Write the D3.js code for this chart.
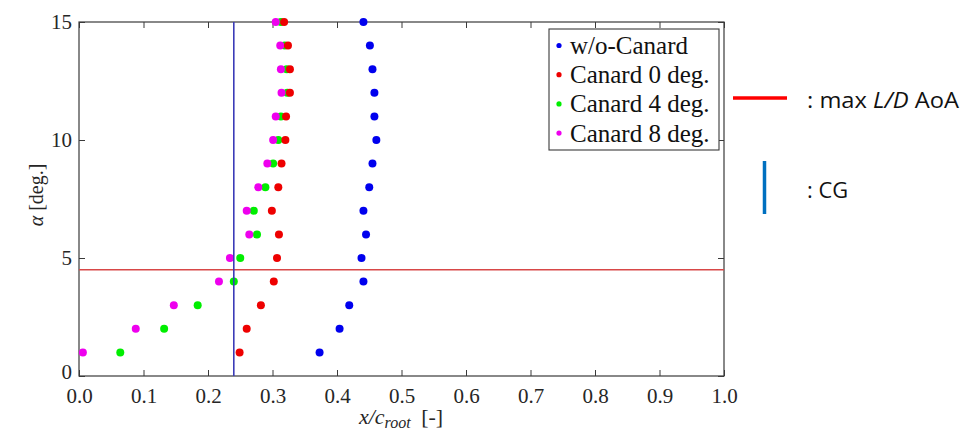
<!DOCTYPE html>
<html>
<head>
<meta charset="utf-8">
<script src="https://cdn.jsdelivr.net/npm/d3@7"></script>
<style>
  html, body { margin: 0; padding: 0; background: #fff; }
  svg { display: block; }
  .serif, .serif text { font-family: "Liberation Serif", "Times New Roman", serif; }
</style>
</head>
<body>
<svg id="chart" width="973" height="433"></svg>
<script>
// ---- data ----
const alpha = [1, 2, 3, 4, 5, 6, 7, 8, 9, 10, 11, 12, 13, 14, 15];
const woCanard = [0.373, 0.404, 0.419, 0.441, 0.438, 0.445, 0.441, 0.450, 0.455, 0.461, 0.458, 0.458, 0.455, 0.451, 0.441];
const canard0  = [0.249, 0.260, 0.282, 0.302, 0.307, 0.310, 0.299, 0.309, 0.314, 0.320, 0.321, 0.327, 0.327, 0.324, 0.318];
const canard4  = [0.064, 0.132, 0.184, 0.240, 0.250, 0.276, 0.271, 0.289, 0.301, 0.309, 0.313, 0.323, 0.322, 0.319, 0.313];
const canard8  = [0.006, 0.088, 0.147, 0.217, 0.234, 0.264, 0.260, 0.278, 0.292, 0.301, 0.305, 0.314, 0.313, 0.312, 0.305];
const seriesNames = ["w/o-Canard", "Canard 0 deg.", "Canard 4 deg.", "Canard 8 deg."];
const seriesColors = ["#0000ee", "#ee0000", "#00ee00", "#ee00ee"];
const xTicks = [0.0, 0.1, 0.2, 0.3, 0.4, 0.5, 0.6, 0.7, 0.8, 0.9, 1.0];
const yTicks = [0, 5, 10, 15];
const cgX = 0.24;
const maxLDAlpha = 4.5;

// ---- layout ----
const svg = d3.select("#chart");
const pL = 79, pR = 724, pT = 22, pB = 376;
const x = d3.scaleLinear().domain([0, 1]).range([pL, pR]);
const y = d3.scaleLinear().domain([0, 15]).range([pB, pT]);
const serif = "Liberation Serif, Times New Roman, serif";
const axisColor = "#3a3a3a";
const textColor = "#262626";

// frame
svg.append("rect")
  .attr("x", pL).attr("y", pT)
  .attr("width", pR - pL).attr("height", pB - pT)
  .attr("fill", "none").attr("stroke", axisColor).attr("stroke-width", 1.2);

// axes (ticks inward)
function styleAxis(g) {
  g.attr("font-family", serif).attr("font-size", 21).classed("serif", true);
  g.select(".domain").remove();
  g.selectAll(".tick line").attr("stroke", axisColor).attr("stroke-width", 1);
  g.selectAll(".tick text").attr("fill", textColor);
}
svg.append("g").attr("transform", `translate(0,${pB})`)
  .call(d3.axisBottom(x).tickValues(xTicks).tickFormat(d3.format(".1f")).tickSizeInner(-6).tickSizeOuter(0).tickPadding(12))
  .call(styleAxis);
svg.append("g").attr("transform", `translate(0,${pT})`)
  .call(d3.axisTop(x).tickValues(xTicks).tickFormat("").tickSizeInner(-6).tickSizeOuter(0))
  .call(styleAxis);
const yAxisG = svg.append("g").attr("transform", `translate(${pL},0)`)
  .call(d3.axisLeft(y).tickValues(yTicks).tickFormat(d3.format("d")).tickSizeInner(-6).tickSizeOuter(0).tickPadding(7))
  .call(styleAxis);
// the "0" label sits just above the "0.0" label, as in the reference
yAxisG.selectAll(".tick text").filter(d => d === 0).attr("dy", "0.1em");
svg.append("g").attr("transform", `translate(${pR},0)`)
  .call(d3.axisRight(y).tickValues(yTicks).tickFormat("").tickSizeInner(-6).tickSizeOuter(0))
  .call(styleAxis);

// points
const allSeries = [woCanard, canard0, canard4, canard8];
const drawOrder = [0, 2, 3, 1];
drawOrder.forEach(si => {
  svg.append("g").selectAll("circle")
    .data(alpha.map((a, i) => ({ a, v: allSeries[si][i] })))
    .join("circle")
    .attr("cx", d => x(d.v)).attr("cy", d => y(d.a))
    .attr("r", 4).attr("fill", seriesColors[si]);
});

// reference lines
svg.append("line")
  .attr("x1", x(0)).attr("x2", x(1)).attr("y1", y(maxLDAlpha)).attr("y2", y(maxLDAlpha))
  .attr("stroke", "#d84848").attr("stroke-width", 1.6);
svg.append("line")
  .attr("x1", x(cgX)).attr("x2", x(cgX)).attr("y1", y(0)).attr("y2", y(15))
  .attr("stroke", "#3c3cb8").attr("stroke-width", 1.6);

// legend
const lg = svg.append("g").attr("class", "serif").attr("font-family", serif);
lg.append("rect").attr("x", 549).attr("y", 29).attr("width", 170).attr("height", 121)
  .attr("fill", "#fff").attr("stroke", axisColor).attr("stroke-width", 1.1);
seriesNames.forEach((name, i) => {
  const cy = 45.5 + i * 29.2;
  lg.append("circle").attr("cx", 559).attr("cy", cy).attr("r", 2.6).attr("fill", seriesColors[i]);
  lg.append("text").attr("x", 570).attr("y", cy + 8.5)
    .attr("fill", "#111").attr("font-size", 25)
    .text(name);
});

// axis titles
const xt = svg.append("text").attr("class", "serif").attr("x", 401).attr("y", 424).attr("text-anchor", "middle")
  .attr("fill", textColor).attr("font-family", serif).attr("font-size", 22);
xt.append("tspan").attr("font-style", "italic").text("x/c");
xt.append("tspan").attr("font-style", "italic").attr("font-size", 16).attr("dy", 4).text("root");
xt.append("tspan").attr("dy", -4).attr("dx", 5).text(" [-]");

const yt = svg.append("text").attr("class", "serif").attr("transform", "translate(43,195) rotate(-90)")
  .attr("text-anchor", "middle").attr("fill", textColor)
  .attr("font-family", serif).attr("font-size", 20);
yt.append("tspan").attr("font-style", "italic").text("α");
yt.append("tspan").text(" [deg.]");

// side annotations
const sans = "Open Sans, Noto Sans, sans-serif";
svg.append("line").attr("x1", 733).attr("x2", 787).attr("y1", 98).attr("y2", 98)
  .attr("stroke", "#ff0000").attr("stroke-width", 3.5);
const t1 = svg.append("text").attr("x", 807).attr("y", 107.5)
  .attr("fill", "#111").attr("font-family", sans).attr("font-size", 21)
  .attr("textLength", 152).attr("lengthAdjust", "spacingAndGlyphs");
t1.append("tspan").text(": max ");
t1.append("tspan").attr("font-style", "italic").text("L/D");
t1.append("tspan").text(" AoA");
svg.append("line").attr("x1", 764.5).attr("x2", 764.5).attr("y1", 161).attr("y2", 214)
  .attr("stroke", "#0070c0").attr("stroke-width", 3.5);
svg.append("text").attr("x", 807).attr("y", 198)
  .attr("fill", "#111").attr("font-family", sans).attr("font-size", 21)
  .attr("textLength", 41).attr("lengthAdjust", "spacingAndGlyphs")
  .text(": CG");
</script>
</body>
</html>
